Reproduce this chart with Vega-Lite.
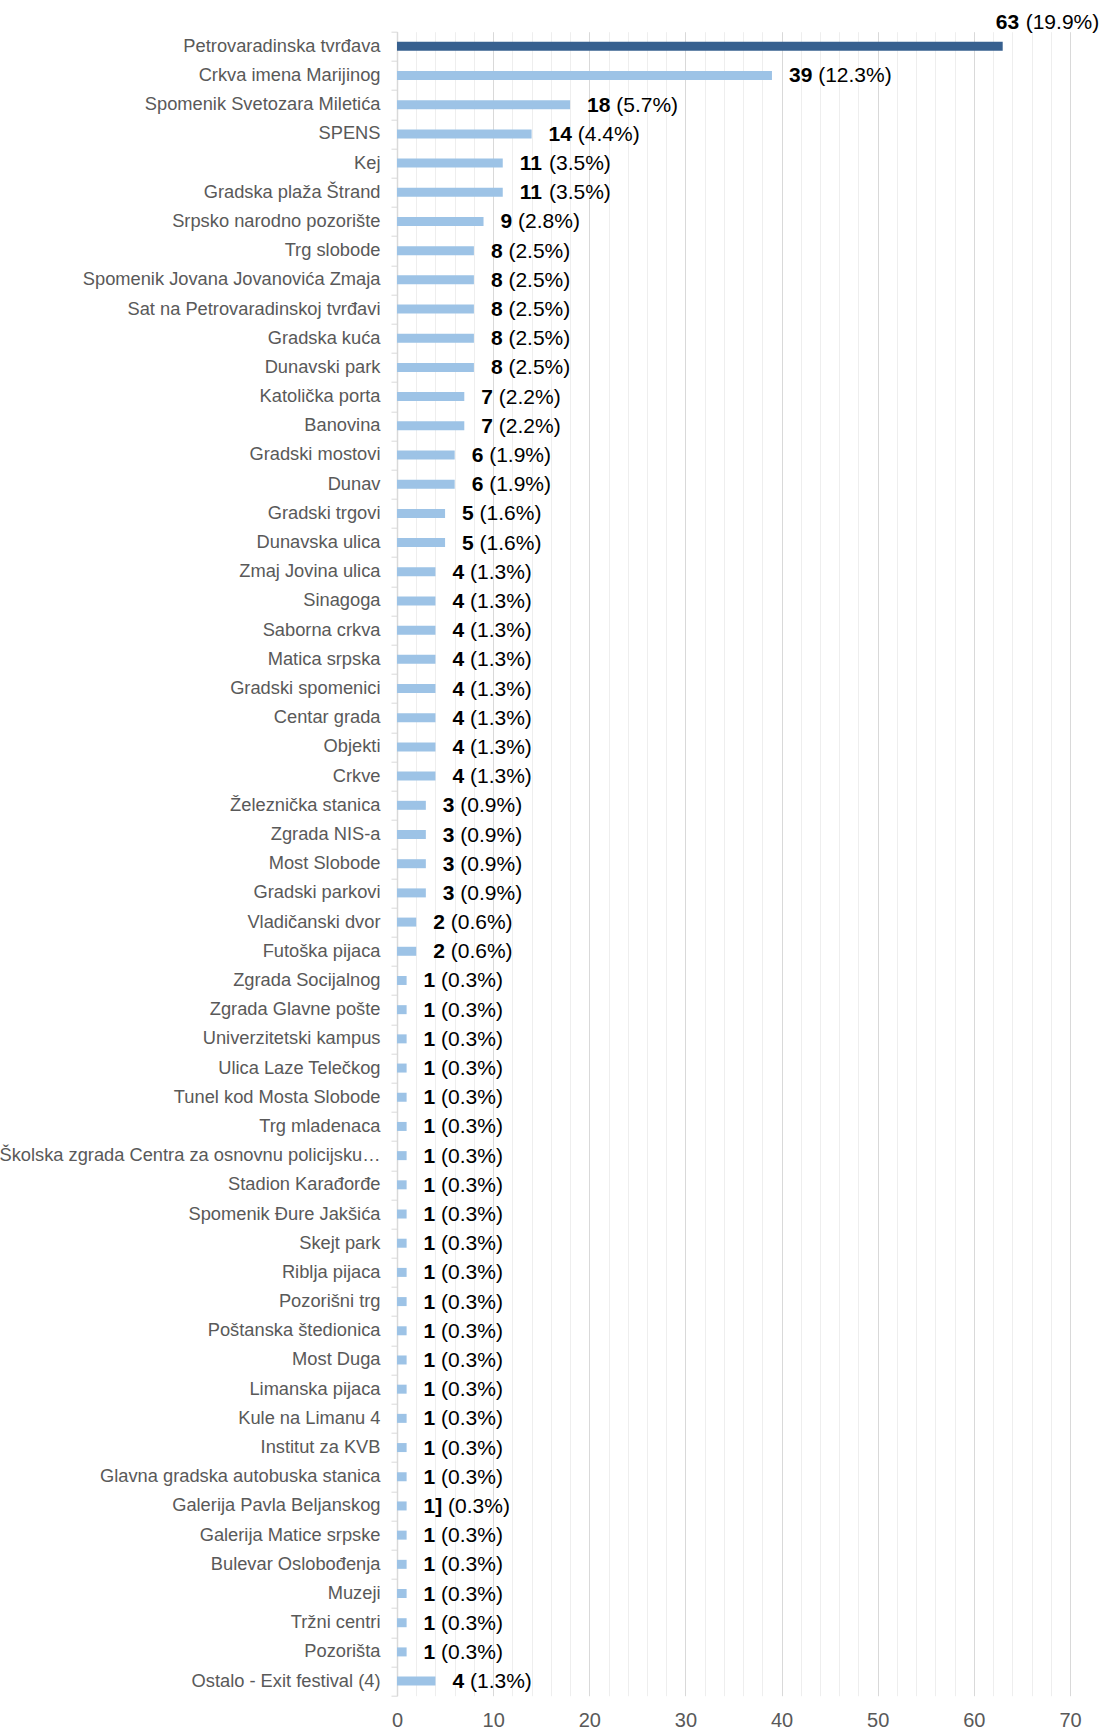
{
  "$schema": "https://vega.github.io/schema/vega-lite/v6.json",
  "autosize": "none",
  "width": 673,
  "height": 1664,
  "padding": {"left": 397, "top": 31.7, "right": 31, "bottom": 34.3},
  "background": "white",
  "config": {"font": "Liberation Sans", "view": {"stroke": null}},
  "data": {"values": [
    {"name": "Petrovaradinska tvrđava", "count": 63, "n": "63", "pct": "(19.9%)"},
    {"name": "Crkva imena Marijinog", "count": 39, "n": "39", "pct": "(12.3%)"},
    {"name": "Spomenik Svetozara Miletića", "count": 18, "n": "18", "pct": "(5.7%)"},
    {"name": "SPENS", "count": 14, "n": "14", "pct": "(4.4%)"},
    {"name": "Kej", "count": 11, "n": "11", "pct": "(3.5%)"},
    {"name": "Gradska plaža Štrand", "count": 11, "n": "11", "pct": "(3.5%)"},
    {"name": "Srpsko narodno pozorište", "count": 9, "n": "9", "pct": "(2.8%)"},
    {"name": "Trg slobode", "count": 8, "n": "8", "pct": "(2.5%)"},
    {"name": "Spomenik Jovana Jovanovića Zmaja", "count": 8, "n": "8", "pct": "(2.5%)"},
    {"name": "Sat na Petrovaradinskoj tvrđavi", "count": 8, "n": "8", "pct": "(2.5%)"},
    {"name": "Gradska kuća", "count": 8, "n": "8", "pct": "(2.5%)"},
    {"name": "Dunavski park", "count": 8, "n": "8", "pct": "(2.5%)"},
    {"name": "Katolička porta", "count": 7, "n": "7", "pct": "(2.2%)"},
    {"name": "Banovina", "count": 7, "n": "7", "pct": "(2.2%)"},
    {"name": "Gradski mostovi", "count": 6, "n": "6", "pct": "(1.9%)"},
    {"name": "Dunav", "count": 6, "n": "6", "pct": "(1.9%)"},
    {"name": "Gradski trgovi", "count": 5, "n": "5", "pct": "(1.6%)"},
    {"name": "Dunavska ulica", "count": 5, "n": "5", "pct": "(1.6%)"},
    {"name": "Zmaj Jovina ulica", "count": 4, "n": "4", "pct": "(1.3%)"},
    {"name": "Sinagoga", "count": 4, "n": "4", "pct": "(1.3%)"},
    {"name": "Saborna crkva", "count": 4, "n": "4", "pct": "(1.3%)"},
    {"name": "Matica srpska", "count": 4, "n": "4", "pct": "(1.3%)"},
    {"name": "Gradski spomenici", "count": 4, "n": "4", "pct": "(1.3%)"},
    {"name": "Centar grada", "count": 4, "n": "4", "pct": "(1.3%)"},
    {"name": "Objekti", "count": 4, "n": "4", "pct": "(1.3%)"},
    {"name": "Crkve", "count": 4, "n": "4", "pct": "(1.3%)"},
    {"name": "Železnička stanica", "count": 3, "n": "3", "pct": "(0.9%)"},
    {"name": "Zgrada NIS-a", "count": 3, "n": "3", "pct": "(0.9%)"},
    {"name": "Most Slobode", "count": 3, "n": "3", "pct": "(0.9%)"},
    {"name": "Gradski parkovi", "count": 3, "n": "3", "pct": "(0.9%)"},
    {"name": "Vladičanski dvor", "count": 2, "n": "2", "pct": "(0.6%)"},
    {"name": "Futoška pijaca", "count": 2, "n": "2", "pct": "(0.6%)"},
    {"name": "Zgrada Socijalnog", "count": 1, "n": "1", "pct": "(0.3%)"},
    {"name": "Zgrada Glavne pošte", "count": 1, "n": "1", "pct": "(0.3%)"},
    {"name": "Univerzitetski kampus", "count": 1, "n": "1", "pct": "(0.3%)"},
    {"name": "Ulica Laze Telečkog", "count": 1, "n": "1", "pct": "(0.3%)"},
    {"name": "Tunel kod Mosta Slobode", "count": 1, "n": "1", "pct": "(0.3%)"},
    {"name": "Trg mladenaca", "count": 1, "n": "1", "pct": "(0.3%)"},
    {"name": "Školska zgrada Centra za osnovnu policijsku…", "count": 1, "n": "1", "pct": "(0.3%)"},
    {"name": "Stadion Karađorđe", "count": 1, "n": "1", "pct": "(0.3%)"},
    {"name": "Spomenik Đure Jakšića", "count": 1, "n": "1", "pct": "(0.3%)"},
    {"name": "Skejt park", "count": 1, "n": "1", "pct": "(0.3%)"},
    {"name": "Riblja pijaca", "count": 1, "n": "1", "pct": "(0.3%)"},
    {"name": "Pozorišni trg", "count": 1, "n": "1", "pct": "(0.3%)"},
    {"name": "Poštanska štedionica", "count": 1, "n": "1", "pct": "(0.3%)"},
    {"name": "Most Duga", "count": 1, "n": "1", "pct": "(0.3%)"},
    {"name": "Limanska pijaca", "count": 1, "n": "1", "pct": "(0.3%)"},
    {"name": "Kule na Limanu 4", "count": 1, "n": "1", "pct": "(0.3%)"},
    {"name": "Institut za KVB", "count": 1, "n": "1", "pct": "(0.3%)"},
    {"name": "Glavna gradska autobuska stanica", "count": 1, "n": "1", "pct": "(0.3%)"},
    {"name": "Galerija Pavla Beljanskog", "count": 1, "n": "1]", "pct": "(0.3%)"},
    {"name": "Galerija Matice srpske", "count": 1, "n": "1", "pct": "(0.3%)"},
    {"name": "Bulevar Oslobođenja", "count": 1, "n": "1", "pct": "(0.3%)"},
    {"name": "Muzeji", "count": 1, "n": "1", "pct": "(0.3%)"},
    {"name": "Tržni centri", "count": 1, "n": "1", "pct": "(0.3%)"},
    {"name": "Pozorišta", "count": 1, "n": "1", "pct": "(0.3%)"},
    {"name": "Ostalo - Exit festival (4)", "count": 4, "n": "4", "pct": "(1.3%)"}
  ]},
  "transform": [{"joinaggregate": [{"op": "max", "field": "count", "as": "maxc"}]}],
  "encoding": {
    "y": {
      "field": "name", "type": "nominal", "sort": null,
      "scale": {"paddingInner": 0, "paddingOuter": 0},
      "axis": {
        "title": null, "labelFontSize": 18.3, "labelColor": "#595959", "labelPadding": 11,
        "tickSize": 6, "tickColor": "#D9D9D9", "tickBand": "extent", "domainColor": "#D9D9D9",
        "domainWidth": 1.5, "labelLimit": 1000, "labelBaseline": "middle"
      }
    },
    "x": {
      "field": "count", "type": "quantitative",
      "scale": {"domain": [0, 70], "nice": false},
      "axis": {
        "title": null, "orient": "bottom",
        "values": [0,2,4,6,8,10,12,14,16,18,20,22,24,26,28,30,32,34,36,38,40,42,44,46,48,50,52,54,56,58,60,62,64,66,68,70],
        "grid": true,
        "gridColor": {"condition": {"test": "datum.value % 10 === 0", "value": "#D9D9D9"}, "value": "#EEEEEE"},
        "gridWidth": 1,
        "ticks": false, "domain": false,
        "labelFlush": false, "labelOverlap": false,
        "labelExpr": "datum.value % 10 === 0 ? datum.label : ''",
        "labelFontSize": 20, "labelColor": "#595959", "labelPadding": 15
      }
    }
  },
  "layer": [
    {
      "mark": {"type": "bar", "size": 9},
      "encoding": {
        "color": {"condition": {"test": "datum.count == datum.maxc", "value": "#37608F"}, "value": "#9DC3E6"}
      }
    },
    {
      "transform": [{"filter": "datum.count < datum.maxc"}],
      "mark": {"type": "text", "align": "left", "baseline": "middle", "dx": 17, "dy": 1, "fontSize": 21, "fontWeight": "bold", "color": "#000000"},
      "encoding": {"text": {"field": "n"}}
    },
    {
      "transform": [{"filter": "datum.count < datum.maxc"}],
      "mark": {"type": "text", "align": "left", "baseline": "middle", "dx": {"expr": "datum.n == '1]' ? 41.5 : 22.8 + 11.7 * length(datum.n)"}, "dy": 1, "fontSize": 21, "color": "#000000"},
      "encoding": {"text": {"field": "pct"}}
    },
    {
      "transform": [{"filter": "datum.count == datum.maxc"}],
      "mark": {"type": "text", "align": "left", "baseline": "middle", "dx": -7, "dy": -23, "fontSize": 21, "fontWeight": "bold", "color": "#000000"},
      "encoding": {"text": {"field": "n"}}
    },
    {
      "transform": [{"filter": "datum.count == datum.maxc"}],
      "mark": {"type": "text", "align": "left", "baseline": "middle", "dx": 23, "dy": -23, "fontSize": 21, "color": "#000000"},
      "encoding": {"text": {"field": "pct"}}
    }
  ]
}
